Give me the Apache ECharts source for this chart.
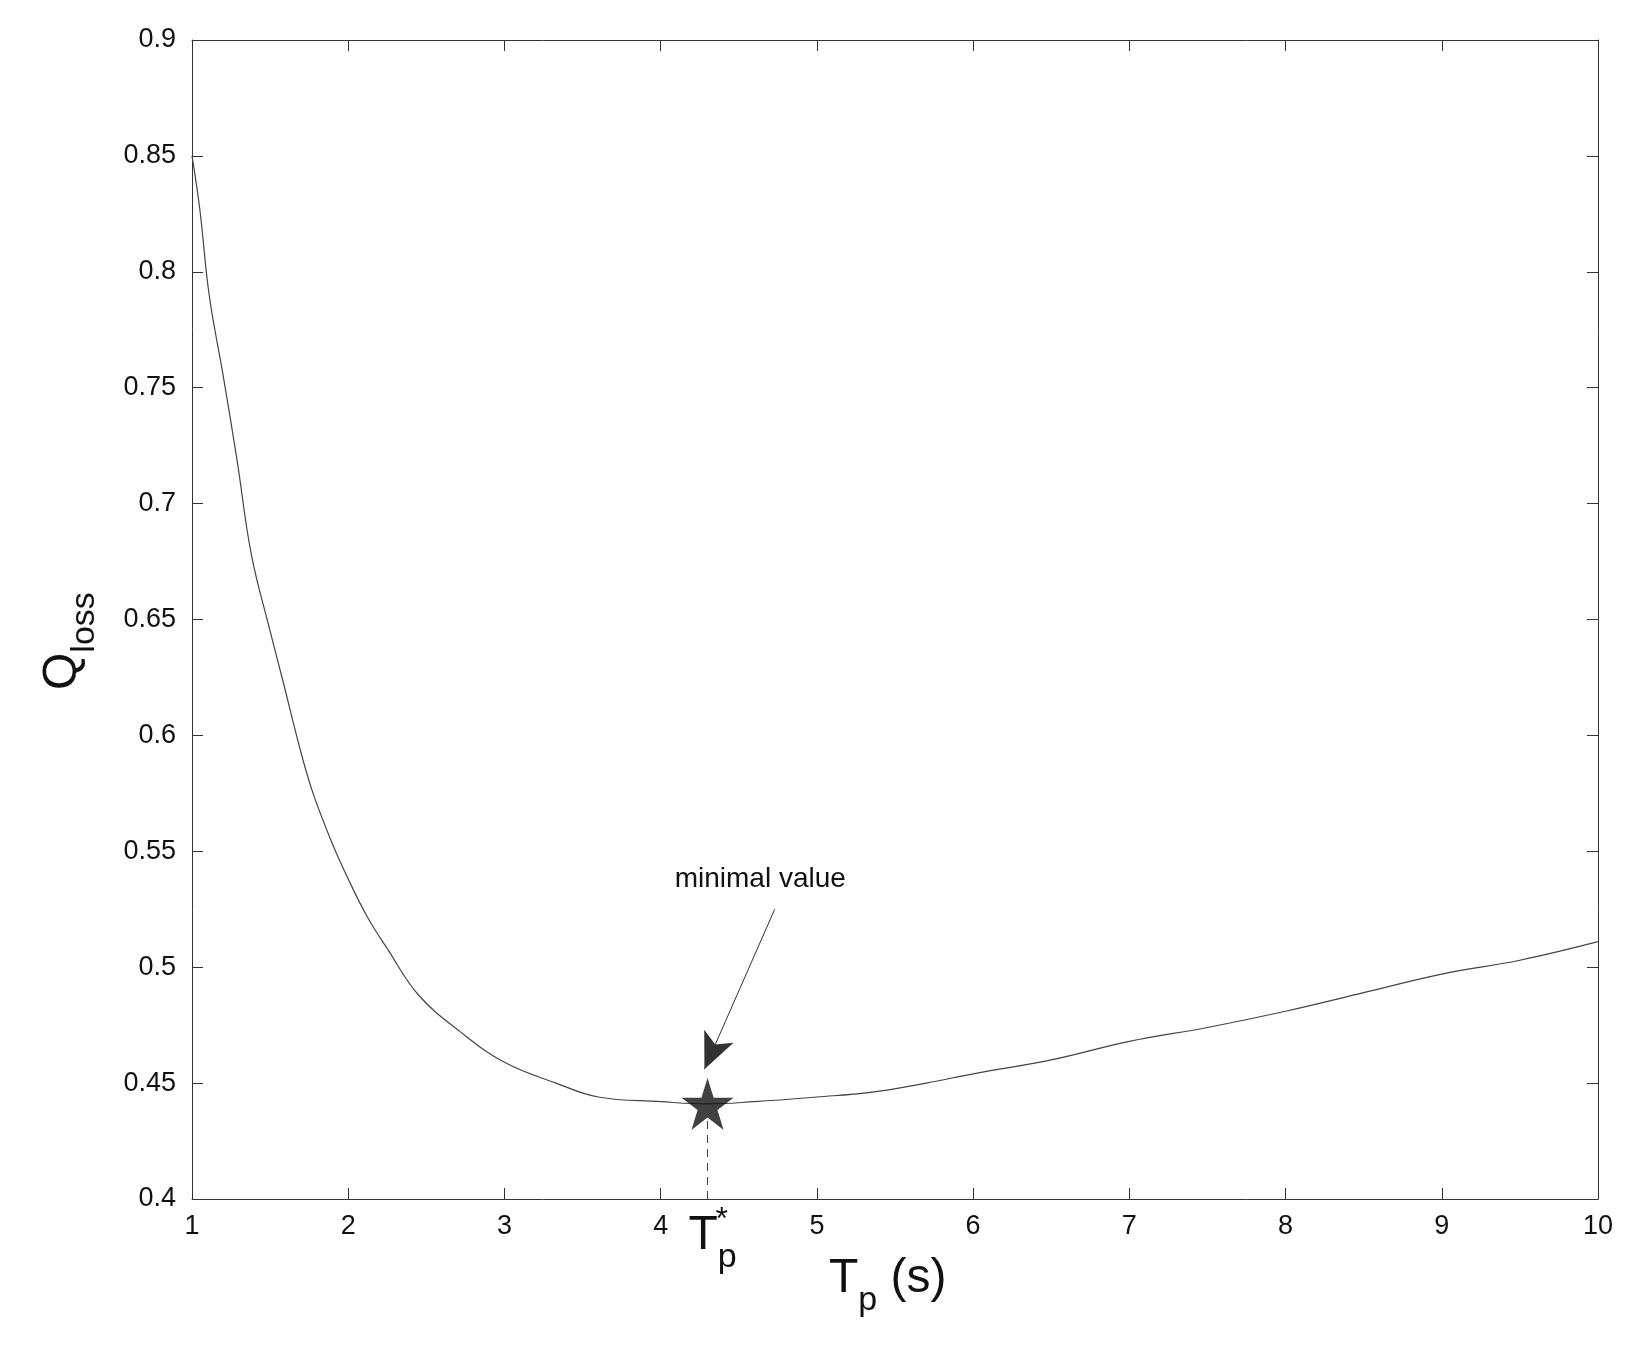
<!DOCTYPE html>
<html><head><meta charset="utf-8">
<script src="https://cdn.jsdelivr.net/npm/echarts@6/dist/echarts.min.js"></script>
<style>body{margin:0;background:#fff}#c{width:1644px;height:1360px}</style>
</head><body><div id="c"></div>
<script>
const xs = [1,1.05,1.11,1.2,1.29,1.38,1.5,1.58,1.7,1.78,1.9,2.0,2.12,2.25,2.45,2.72,3.0,3.33,3.6,4.0,4.3,4.6,5.0,5.34,5.7,6.0,6.5,7.0,7.5,8.0,8.5,9.0,9.5,10];
const ys = [0.85,0.827,0.79,0.755,0.718,0.678,0.645,0.624,0.592,0.574,0.553,0.538,0.522,0.508,0.488,0.472,0.459,0.450,0.444,0.442,0.441,0.442,0.444,0.446,0.450,0.454,0.460,0.468,0.474,0.481,0.489,0.497,0.503,0.511];
const minPoint = [4.3, 0.441];
const annotText = 'minimal value';
const font = 'Liberation Sans, Arial, sans-serif';
const chart = echarts.init(document.getElementById('c'));
const star = 'path://M50,0 L61.8,36.2 L100,36.2 L69.1,58.8 L80.9,95.1 L50,72.4 L19.1,95.1 L30.9,58.8 L0,36.2 L38.2,36.2 Z';
const axCommon = {axisLine:{lineStyle:{color:'#333'}},axisTick:{inside:true,length:11,lineStyle:{color:'#333'}},splitLine:{show:false}};
chart.setOption({
  animation:false,
  grid:{left:192,right:46,top:40,bottom:161},
  xAxis:[
    Object.assign({type:'value',min:1,max:10,interval:1,axisLabel:{fontSize:27,color:'#111',fontFamily:font,margin:14}},axCommon),
    Object.assign({type:'value',min:1,max:10,interval:1,position:'top',axisLabel:{show:false}},axCommon)
  ],
  yAxis:[
    Object.assign({type:'value',min:0.4,max:0.9,interval:0.05,axisLabel:{fontSize:27,color:'#111',fontFamily:font,margin:16,formatter:v=>String(+v.toFixed(2))}},axCommon),
    Object.assign({type:'value',min:0.4,max:0.9,interval:0.05,position:'right',axisLabel:{show:false}},axCommon)
  ],
  series:[
    {type:'line',data:xs.map((x,i)=>[x,ys[i]]),smooth:0.4,showSymbol:false,lineStyle:{color:'#444',width:1.2},
     markLine:{silent:true,symbol:'none',label:{show:false},data:[
       [{coord:[minPoint[0],0.4],lineStyle:{type:[8,6],color:'#444',width:1}},{coord:[minPoint[0],0.434]}],
       [{coord:[4.73,0.525],symbol:'none',lineStyle:{type:'solid',color:'#333',width:1}},{coord:[4.28,0.456],symbol:'arrow',symbolSize:[24,36]}]
     ]}},
    {type:'scatter',data:[minPoint],symbol:star,symbolSize:52,itemStyle:{color:'#111'},z:5}
  ]
});
const p = chart.convertToPixel({xAxisIndex:0,yAxisIndex:0},minPoint);
const a = chart.convertToPixel({xAxisIndex:0,yAxisIndex:0},[4.73,0.525]);
chart.setOption({graphic:[
  {type:'text',left:a[0]-100,top:a[1]-44,style:{text:annotText,font:'28px '+font,fill:'#111'}},
  {type:'text',left:p[0]-19,top:1212,style:{rich:{b:{font:'48px '+font,fill:'#111'},s:{font:'34px '+font,fill:'#111',padding:[44,0,0,0]}},text:'{b|T}{s|p}'}},
  {type:'text',left:p[0]+8,top:1204,style:{text:'*',font:'32px '+font,fill:'#111'}},
  {type:'text',left:829,top:1255,style:{rich:{b:{font:'48px '+font,fill:'#111'},s:{font:'34px '+font,fill:'#111',padding:[44,0,0,0]}},text:'{b|T}{s|p}{b| (s)}'}},
  {type:'text',x:24,y:690,rotation:Math.PI/2,style:{rich:{b:{font:'48px '+font,fill:'#111'},s:{font:'34px '+font,fill:'#111',padding:[44,0,0,0]}},text:'{b|Q}{s|loss}'}}
]});
</script></body></html>
